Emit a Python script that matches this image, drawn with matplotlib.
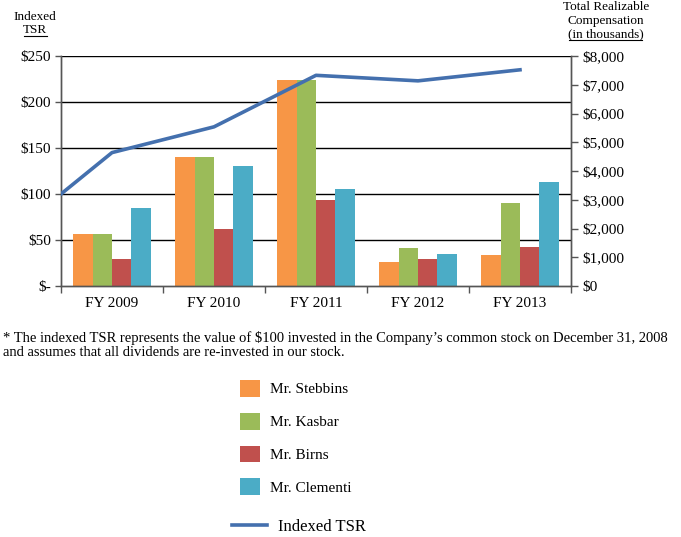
import matplotlib
matplotlib.use("Agg")
import matplotlib.pyplot as plt
from matplotlib.patches import Patch
from matplotlib.lines import Line2D
import numpy as np

plt.rcParams['font.family'] = ['Liberation Serif', 'DejaVu Serif']

categories = ["FY 2009", "FY 2010", "FY 2011", "FY 2012", "FY 2013"]
series_names = ["Mr. Stebbins", "Mr. Kasbar", "Mr. Birns", "Mr. Clementi"]
stebbins = [1800, 4500, 7150, 840, 1070]
kasbar = [1800, 4500, 7150, 1330, 2900]
birns = [950, 1980, 3000, 930, 1350]
clementi = [2720, 4170, 3360, 1120, 3630]
tsr_labels = ["FY 2008", "FY 2009", "FY 2010", "FY 2011", "FY 2012", "FY 2013"]
tsr = [100, 145, 173, 229, 223, 235]

colors = ["#F79646", "#9BBB59", "#C0504D", "#4BACC6"]
line_color = "#4470AE"

fig = plt.figure(figsize=(6.81, 5.37), dpi=100)
ax = fig.add_axes([61/681, 1-286/537, 510/681, 230/537])
ax2 = ax.twinx()

x = np.arange(len(categories))
bw = 0.19
all_series = [stebbins, kasbar, birns, clementi]
for i, (vals, c, name) in enumerate(zip(all_series, colors, series_names)):
    ax2.bar(x + (i - 1.5) * bw, vals, bw, color=c, label=name, zorder=2)

# TSR line: starting value at left edge, then one point per fiscal year
tsr_x = np.concatenate([[-0.5], x])
ax.plot(tsr_x, tsr, color=line_color, lw=2.6, zorder=5)

ax.set_xlim(-0.5, len(categories) - 0.5)
ax.set_ylim(0, 250)
ax2.set_ylim(0, 8000)

ax.set_yticks(np.arange(0, 251, 50))
ax.set_yticklabels(["$-" if v == 0 else f"${v}" for v in range(0, 251, 50)])
ax2.set_yticks(np.arange(0, 8001, 1000))
ax2.set_yticklabels([f"${v:,}" for v in range(0, 8001, 1000)])

ax.set_xticks(x)
ax.set_xticklabels(categories)
ax.set_xticks(np.arange(-0.5, len(categories), 1.0), minor=True)
ax.tick_params(axis='x', which='major', length=0, pad=8, labelsize=11)
ax.tick_params(axis='x', which='minor', length=5, width=1, color='#555555', direction='out')
ax.tick_params(axis='y', length=4, width=1, color='#555555', labelsize=11, pad=3)
ax2.tick_params(axis='y', length=5, width=1, color='#555555', labelsize=11, pad=3)

for a in (ax, ax2):
    a.spines['top'].set_visible(False)
    for s in ('left', 'right', 'bottom'):
        a.spines[s].set_color('#555555')
        a.spines[s].set_linewidth(1)

ax.patch.set_visible(False)
ax2.patch.set_visible(False)
ax.set_zorder(2)
ax2.set_zorder(1)

# horizontal gridlines at the left-axis ticks, behind the bars
for v in range(50, 251, 50):
    ax2.axhline(v * 8000 / 250, color='black', lw=1, zorder=1)

# axis titles
fig.text(35/681, 1-17/537, "Indexed", ha='center', va='center', fontsize=9.5)
fig.text(35/681, 1-30/537, "TSR", ha='center', va='center', fontsize=9.5)
fig.add_artist(Line2D([24/681, 47/681], [1-36/537, 1-36/537], color='black', lw=0.8))
fig.text(606/681, 1-7/537, "Total Realizable", ha='center', va='center', fontsize=9.5)
fig.text(606/681, 1-21/537, "Compensation", ha='center', va='center', fontsize=9.5)
fig.text(606/681, 1-34/537, "(in thousands)", ha='center', va='center', fontsize=9.5)
fig.add_artist(Line2D([569/681, 642/681], [1-40/537, 1-40/537], color='black', lw=0.8))

# footnote
fig.text(3/681, 1-345/537,
         "* The indexed TSR represents the value of $100 invested in the Company\u2019s common stock on December 31, 2008\n"
         "and assumes that all dividends are re-invested in our stock.",
         ha='left', va='center', fontsize=10.55, linespacing=1.05)

# legends
bar_handles = [Patch(facecolor=c, label=n) for c, n in zip(colors, series_names)]
leg1 = fig.legend(handles=bar_handles, loc='upper left', bbox_to_anchor=(240/681, 1-380/537),
                  frameon=False, fontsize=11, handlelength=1.31, handleheight=1.31,
                  labelspacing=1.05, handletextpad=0.65, borderpad=0, borderaxespad=0)
line_handle = [Line2D([0], [0], color=line_color, lw=2.6, label="Indexed TSR")]
leg2 = fig.legend(handles=line_handle, loc='center left', bbox_to_anchor=(232/681, 1-527/537),
                  frameon=False, fontsize=12, handlelength=2.1, handletextpad=0.65,
                  borderpad=0, borderaxespad=0)

fig.savefig("out.png", dpi=100)
